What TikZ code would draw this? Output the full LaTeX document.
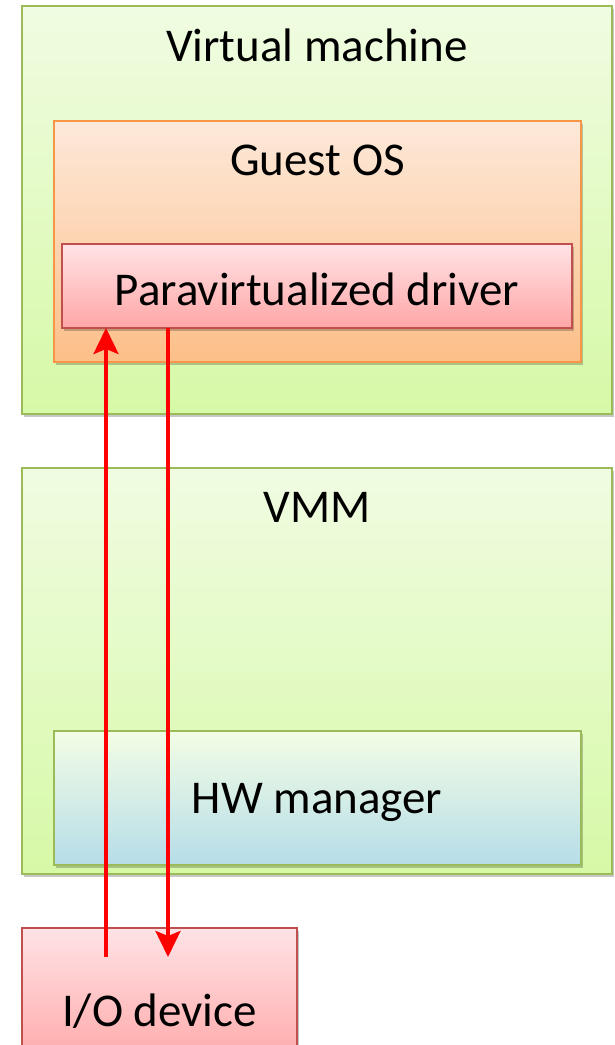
\documentclass[tikz,border=0pt]{standalone}
\usepackage{fontspec}
\setmainfont{Carlito}
\usetikzlibrary{arrows.meta,shadows}
\definecolor{grnborder}{HTML}{9BBB59}
\definecolor{grntop}{HTML}{F0FCE2}
\definecolor{grnbot}{HTML}{D6F9A6}
\definecolor{orgborder}{HTML}{F79646}
\definecolor{orgtop}{HTML}{FDE9DA}
\definecolor{orgbot}{HTML}{FCBF88}
\definecolor{redborder}{HTML}{C0504D}
\definecolor{redtop}{HTML}{FFE3E6}
\definecolor{redbot}{HTML}{FFA6A6}
\definecolor{blutop}{HTML}{F3FDE5}
\definecolor{blubot}{HTML}{B6DDE8}
\tikzset{
  boxbase/.style={rectangle, inner sep=0pt, outer sep=0pt, anchor=north west,
    drop shadow={opacity=0.22, shadow xshift=2pt, shadow yshift=-3pt, fill=black}},
  greenbox/.style={boxbase, draw=grnborder, line width=2pt, top color=grntop, bottom color=grnbot},
  orangebox/.style={boxbase, draw=orgborder, line width=2pt, top color=orgtop, bottom color=orgbot},
  redbox/.style={boxbase, draw=redborder, line width=1.6pt, top color=redtop, bottom color=redbot},
  bluebox/.style={boxbase, draw=grnborder, line width=2pt, top color=blutop, bottom color=blubot},
  lbl/.style={anchor=base, inner sep=0pt, font=\fontsize{47}{52}\selectfont, text=black},
  flow/.style={draw=red, line width=4pt, -{Stealth[length=26pt,width=25pt,inset=5pt]}}
}
\begin{document}
\begin{tikzpicture}[x=1pt,y=-1pt]
\useasboundingbox (0,0) rectangle (615,1045);
\clip (0,0) rectangle (615,1045);
% Virtual machine
\node[greenbox, minimum width=590pt, minimum height=408pt] (vm) at (22,6) {};
\node[lbl] (vmlbl) at (317,61) {Virtual machine};
\node[orangebox, minimum width=527pt, minimum height=241pt] (guest) at (54,121) {};
\node[lbl] (guestlbl) at (317.5,175) {Guest OS};
\node[redbox, minimum width=510pt, minimum height=84pt] (driver) at (62,244) {};
\node[lbl] (driverlbl) at (317,305) {Paravirtualized driver};
% VMM
\node[greenbox, minimum width=590pt, minimum height=406pt] (vmm) at (22,468) {};
\node[lbl] (vmmlbl) at (317,522) {VMM};
\node[bluebox, minimum width=526.5pt, minimum height=134pt] (hw) at (54,731) {};
\node[lbl] (hwlbl) at (317,813) {HW manager};
% I/O device
\node[redbox, minimum width=275pt, minimum height=140pt] (io) at (22,928) {};
\node[lbl] (iolbl) at (159.5,1026) {I/O device};
% arrows
\coordinate (ioup) at (106,957);
\coordinate (iodown) at (168,957);
\draw[flow] (ioup) -- (ioup |- driver.south);
\draw[flow] (iodown |- driver.south) -- (iodown);
\end{tikzpicture}
\end{document}
